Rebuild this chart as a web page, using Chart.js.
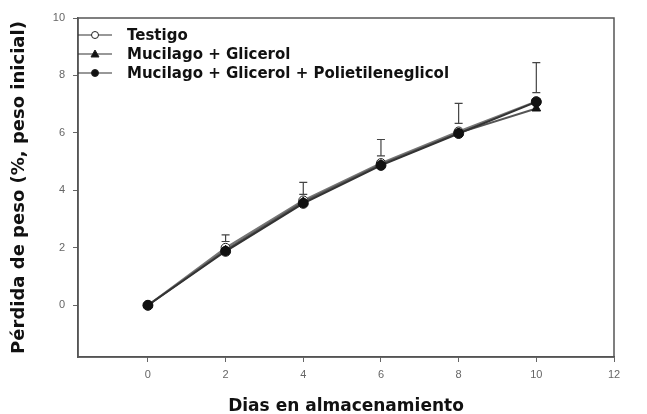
<!DOCTYPE html>
<html>
<head>
<meta charset="utf-8">
<script src="https://cdn.jsdelivr.net/npm/chart.js@4.4.0/dist/chart.umd.min.js"></script>
<style>
  html, body { margin: 0; padding: 0; background: #fff; }
  #wrap { width: 647px; height: 414px; }
</style>
</head>
<body>
<div id="wrap"><canvas id="chart" width="647" height="414"></canvas></div>
<script>
// Data
const days = [0, 2, 4, 6, 8, 10];
const testigo = [0, 2.0, 3.65, 4.95, 6.05, 7.1];
const mucGli = [0, 1.92, 3.6, 4.9, 6.0, 6.85];
const mucGliPeg = [0, 1.88, 3.55, 4.87, 5.98, 7.08];
// error bar ends for Testigo
const errLow = [null, 2.22, 3.86, 5.2, 6.33, 7.4];
const errHigh = [null, 2.45, 4.28, 5.77, 7.03, 8.45];
const xTicks = [0, 2, 4, 6, 8, 10, 12];
const yTicks = [0, 2, 4, 6, 8, 10];
const seriesNames = ['Testigo', 'Mucilago + Glicerol', 'Mucilago + Glicerol + Polietileneglicol'];

const toXY = arr => arr.map((v, i) => ({ x: days[i], y: v }));
const boldFont = '"DejaVu Sans", sans-serif';

// frame, error bars, legend
const extras = {
  id: 'extras',
  beforeDatasetsDraw(chart) {
    const { ctx, scales: { x, y } } = chart;
    ctx.save();
    ctx.strokeStyle = '#444';
    ctx.lineWidth = 1.2;
    days.forEach((d, i) => {
      if (errLow[i] == null) return;
      const px = x.getPixelForValue(d);
      const y1 = y.getPixelForValue(errLow[i]);
      const y2 = y.getPixelForValue(errHigh[i]);
      ctx.beginPath();
      ctx.moveTo(px, y1); ctx.lineTo(px, y2);
      ctx.moveTo(px - 4, y1); ctx.lineTo(px + 4, y1);
      ctx.moveTo(px - 4, y2); ctx.lineTo(px + 4, y2);
      ctx.stroke();
    });
    ctx.restore();
  },
  afterDraw(chart) {
    const { ctx, chartArea: a } = chart;
    ctx.save();
    ctx.strokeStyle = '#555';
    ctx.lineWidth = 1.5;
    ctx.strokeRect(a.left, a.top, a.right - a.left, a.bottom - a.top);

    // legend inside the plot, top left
    ctx.font = 'bold 15px ' + boldFont;
    ctx.textBaseline = 'middle';
    const rows = [35, 54, 73];
    const mx = a.left + 17;
    chart.data.datasets.forEach((ds, i) => {
      const yy = rows[i];
      ctx.strokeStyle = '#333';
      ctx.lineWidth = 1.2;
      ctx.beginPath();
      ctx.moveTo(a.left, yy); ctx.lineTo(a.left + 34, yy);
      ctx.stroke();
      ctx.fillStyle = ds.pointBackgroundColor;
      ctx.strokeStyle = '#222';
      ctx.lineWidth = 1;
      ctx.beginPath();
      if (ds.pointStyle === 'circle') ctx.arc(mx, yy, 3.5, 0, Math.PI * 2);
      else { ctx.moveTo(mx, yy - 4); ctx.lineTo(mx + 4, yy + 3); ctx.lineTo(mx - 4, yy + 3); ctx.closePath(); }
      ctx.fill(); ctx.stroke();
      ctx.fillStyle = '#111';
      ctx.fillText(seriesNames[i], a.left + 49, yy + 1);
    });
    ctx.restore();
  }
};

new Chart(document.getElementById('chart'), {
  type: 'scatter',
  data: {
    datasets: [
      {
        label: seriesNames[0], data: toXY(testigo), showLine: true, order: 3,
        borderColor: '#777', borderWidth: 2, pointStyle: 'circle', pointRadius: 4.5,
        pointBackgroundColor: '#fff', pointBorderColor: '#222', pointBorderWidth: 1
      },
      {
        label: seriesNames[1], data: toXY(mucGli), showLine: true, order: 2,
        borderColor: '#555', borderWidth: 2, pointStyle: 'triangle', pointRadius: 5,
        pointBackgroundColor: '#111', pointBorderColor: '#111', pointBorderWidth: 1
      },
      {
        label: seriesNames[2], data: toXY(mucGliPeg), showLine: true, order: 1,
        borderColor: '#333', borderWidth: 2, pointStyle: 'circle', pointRadius: 5,
        pointBackgroundColor: '#111', pointBorderColor: '#111', pointBorderWidth: 1
      }
    ]
  },
  options: {
    responsive: false,
    animation: false,
    layout: { padding: { top: 18, right: 33, left: 0, bottom: 0 } },
    plugins: { legend: { display: false }, tooltip: { enabled: false } },
    scales: {
      x: {
        type: 'linear', min: -1.8, max: 12,
        afterBuildTicks: s => { s.ticks = xTicks.map(v => ({ value: v })); },
        afterFit: s => { s.height = 57; },
        grid: { drawOnChartArea: false, drawTicks: true, tickLength: 5, color: '#666' },
        border: { display: true, color: '#555', width: 1.5 },
        ticks: { color: '#666', font: { family: 'Liberation Sans', size: 11 }, padding: 6 },
        title: { display: true, text: 'Dias en almacenamiento', color: '#111',
          font: { family: boldFont, size: 17, weight: 'bold' }, padding: { top: 0, bottom: -3 } }
      },
      y: {
        type: 'linear', min: -1.8, max: 10,
        afterBuildTicks: s => { s.ticks = yTicks.map(v => ({ value: v })); },
        afterFit: s => { s.width = 78; },
        grid: { drawOnChartArea: false, drawTicks: true, tickLength: 5, color: '#666' },
        border: { display: true, color: '#555', width: 1.5 },
        ticks: { color: '#666', font: { family: 'Liberation Sans', size: 11 }, padding: 8 },
        title: { display: true, text: 'Pérdida de peso (%, peso inicial)', color: '#111',
          font: { family: boldFont, size: 18, weight: 'bold' }, padding: { bottom: 0, top: 9 } }
      }
    }
  },
  plugins: [extras]
});
</script>
</body>
</html>
